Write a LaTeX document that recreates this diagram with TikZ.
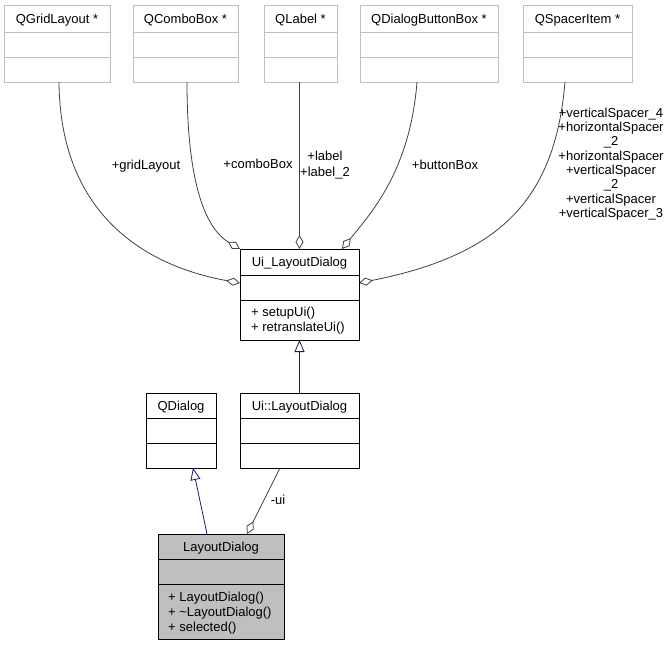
\documentclass[tikz,border=0pt]{standalone}
\usepackage{fontspec}
\setmainfont{Liberation Sans}
\usetikzlibrary{arrows.meta,calc}
\definecolor{boxgray}{HTML}{BFBFBF}
\definecolor{selgray}{HTML}{BFBFBF}
\definecolor{edgegray}{HTML}{404040}
\definecolor{navyedge}{HTML}{191970}
\newcommand\umlclass[9]{%
  \node[#8, anchor=north west, minimum width={#4-#2}, minimum height={#5-#3}] (#1) at (#2,#3) {};
  \draw[#8 line] (#2,#6) -- (#4,#6) (#2,#7) -- (#4,#7);
  \node[titletext] (#1-title) at ({(#2+#4)/2},{(#3+#6)/2}) {#9};
}
\begin{document}
\begin{tikzpicture}[x=1pt,y=-1pt,
  font=\fontsize{13}{15}\selectfont,
  graybox/.style={draw=boxgray, fill=white, line width=0.9pt, inner sep=0pt, outer sep=0pt},
  graybox line/.style={draw=boxgray, line width=0.9pt},
  blackbox/.style={draw=black, fill=white, line width=0.9pt, inner sep=0pt, outer sep=0pt},
  blackbox line/.style={draw=black, line width=0.9pt},
  selbox/.style={draw=black, fill=selgray, line width=0.9pt, inner sep=0pt, outer sep=0pt},
  selbox line/.style={draw=black, line width=0.9pt},
  titletext/.style={inner sep=0pt, text height=9.4pt, text depth=0pt},
  members/.style={inner sep=0pt, align=left, anchor=west},
  edgelabel/.style={inner sep=0pt, text height=9.4pt, text depth=0pt},
  multilabel/.style={inner sep=0pt, align=center},
  agg/.style={draw=edgegray, line width=0.8pt, -{Diamond[open, length=14pt, width=8pt, line width=0.8pt]}},
  inh/.style={draw=navyedge, line width=0.8pt, -{Triangle[open, length=12pt, width=10pt, line width=0.8pt]}}
]
\useasboundingbox (0,0) rectangle (672,645);

% top classes
\umlclass{grid}{4}{5}{110}{82}{32}{57}{graybox}{QGridLayout *}
\umlclass{combo}{133}{5}{238}{82}{32}{57}{graybox}{QComboBox *}
\umlclass{qlabel}{264}{5}{337}{82}{32}{57}{graybox}{QLabel *}
\umlclass{bbox}{360}{5}{498}{82}{32}{57}{graybox}{QDialogButtonBox *}
\umlclass{spacer}{523}{5}{632}{82}{32}{57}{graybox}{QSpacerItem *}

% Ui_LayoutDialog
\umlclass{uid}{240}{249}{359}{340}{275}{300}{blackbox}{Ui\_LayoutDialog}
\node[members] (uid-m) at (251,320.5) {+ setupUi()\\+ retranslateUi()};

% QDialog and Ui::LayoutDialog
\umlclass{qd}{146}{393}{216}{468}{418}{443}{blackbox}{QDialog}
\umlclass{uilay}{240}{393}{359}{468}{418}{443}{blackbox}{Ui::LayoutDialog}

% LayoutDialog
\umlclass{ld}{158}{534}{284}{639}{559}{584}{selbox}{LayoutDialog}
\node[members] (ld-m) at (168,613) {+ LayoutDialog()\\+ \textasciitilde LayoutDialog()\\+ selected()};

% aggregation edges
\draw[agg] ([xshift=2pt]grid.south) .. controls (60,210) and (140,265) .. ([yshift=-34pt]uid.north west);
\draw[agg] ([xshift=1.5pt]combo.south) .. controls (187,190) and (208,230) .. (uid.north west);
\draw[agg] (uid.north |- qlabel.south) -- (uid.north);
\draw[agg] ([xshift=-12pt]bbox.south) .. controls (410,170) and (372,212) .. ([xshift=-17pt]uid.north east);
\draw[agg] ([xshift=-12.5pt]spacer.south) .. controls (555,200) and (500,255) .. ([yshift=-34pt]uid.north east);
\draw[agg] ([xshift=-19.5pt]uilay.south) -- ([xshift=26pt]ld.north);

% inheritance edges
\draw[inh] ([xshift=-14pt]ld.north) -- ([xshift=12pt]qd.south);
\draw[inh] (uilay.north) -- (uid.south);

% edge labels
\node[edgelabel] (l-grid) at (146,165) {+gridLayout};
\node[edgelabel] (l-combo) at (258,164) {+comboBox};
\node[multilabel, font=\fontsize{13}{16}\selectfont] (l-label) at (325,165) {+label\\+label\_2};
\node[edgelabel] (l-bb) at (445,165) {+buttonBox};
\node[multilabel, font=\fontsize{13}{14.3}\selectfont] (l-sp) at (611,164) {+verticalSpacer\_4\\+horizontalSpacer\\\_2\\+horizontalSpacer\\+verticalSpacer\\\_2\\+verticalSpacer\\+verticalSpacer\_3};
\node[edgelabel] (l-ui) at (278,500) {-ui};
\end{tikzpicture}
\end{document}
